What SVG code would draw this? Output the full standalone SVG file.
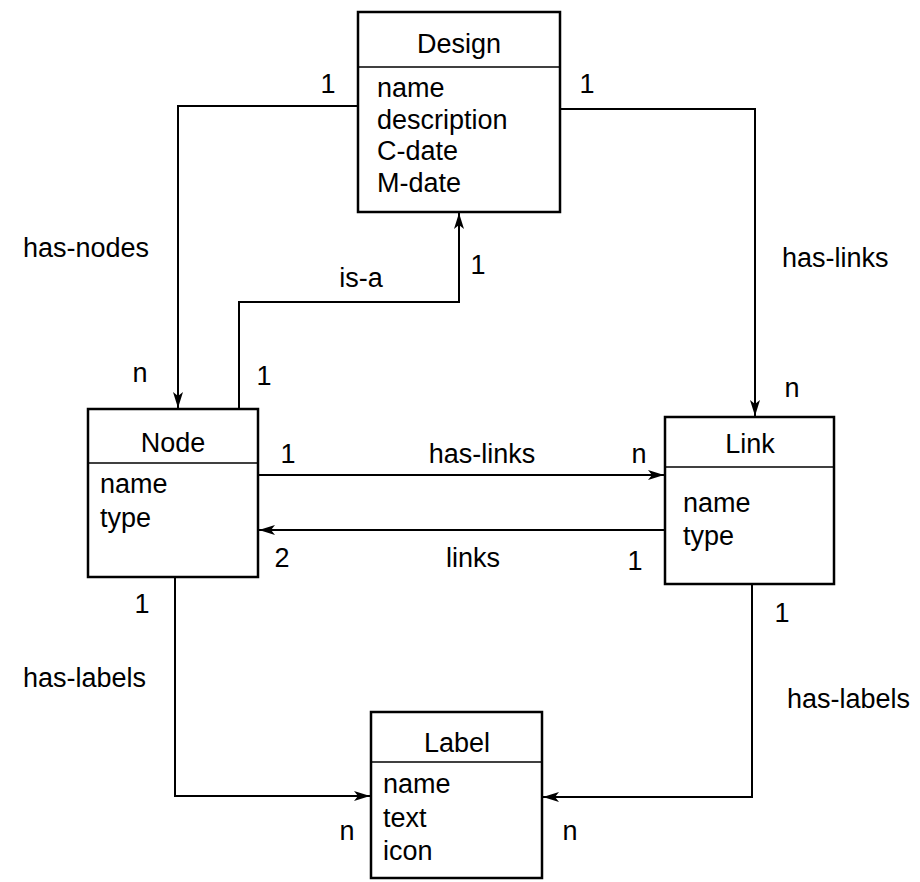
<svg xmlns="http://www.w3.org/2000/svg" width="920" height="882" viewBox="0 0 920 882">
<style>
text{font-family:"Liberation Sans",Arial,sans-serif;font-size:27px;fill:#000}
.mid{text-anchor:middle}
.box{fill:#fff;stroke:#000;stroke-width:2.5}
.div{stroke:#000;stroke-width:1.5}
.conn path{fill:none;stroke:#000;stroke-width:2;marker-end:url(#ah)}
</style>
<defs>
<marker id="ah" viewBox="0 0 16 10" refX="16" refY="5" markerWidth="16" markerHeight="10" markerUnits="userSpaceOnUse" orient="auto">
<path d="M0,0 L16,5 L0,10 L4,5 Z" fill="#000"/>
</marker>
</defs>
<rect width="920" height="882" fill="#fff"/>
<g id="connectors" class="conn">
<path d="M358,106 H178 V408"/>
<path d="M560,109 H755 V416"/>
<path d="M239,409 V302 H459 V213"/>
<path d="M258,475 H664"/>
<path d="M665,530 H259"/>
<path d="M175,577 V796 H370"/>
<path d="M752,584 V797 H543"/>
</g>
<g id="design">
<rect class="box" x="358" y="12" width="202" height="200"/>
<line class="div" x1="358" y1="67" x2="560" y2="67"/>
<text class="mid" x="459" y="53">Design</text>
<text x="377" y="97">name</text>
<text x="377" y="129">description</text>
<text x="377" y="160">C-date</text>
<text x="377" y="192">M-date</text>
</g>
<g id="node">
<rect class="box" x="88" y="409" width="170" height="168"/>
<line class="div" x1="88" y1="463" x2="258" y2="463"/>
<text class="mid" x="173" y="452">Node</text>
<text x="100" y="493">name</text>
<text x="100" y="527">type</text>
</g>
<g id="link">
<rect class="box" x="665" y="417" width="169" height="167"/>
<line class="div" x1="665" y1="467" x2="834" y2="467"/>
<text class="mid" x="750" y="453">Link</text>
<text x="683" y="512">name</text>
<text x="683" y="545">type</text>
</g>
<g id="label">
<rect class="box" x="371" y="712" width="171" height="166"/>
<line class="div" x1="371" y1="762" x2="542" y2="762"/>
<text class="mid" x="457" y="752">Label</text>
<text x="383" y="793">name</text>
<text x="383" y="827">text</text>
<text x="383" y="860">icon</text>
</g>
<g id="labels">
<text class="mid" x="328" y="93">1</text>
<text class="mid" x="587" y="93">1</text>
<text x="23" y="257">has-nodes</text>
<text class="mid" x="140" y="382">n</text>
<text class="mid" x="264" y="385">1</text>
<text class="mid" x="361" y="287">is-a</text>
<text class="mid" x="478" y="274">1</text>
<text x="782" y="267">has-links</text>
<text class="mid" x="792" y="397">n</text>
<text class="mid" x="288" y="463">1</text>
<text class="mid" x="482" y="463">has-links</text>
<text class="mid" x="639" y="463">n</text>
<text class="mid" x="282" y="567">2</text>
<text class="mid" x="473" y="567">links</text>
<text class="mid" x="635" y="570">1</text>
<text class="mid" x="142" y="613">1</text>
<text x="23" y="687">has-labels</text>
<text class="mid" x="782" y="622">1</text>
<text x="787" y="708">has-labels</text>
<text class="mid" x="347" y="840">n</text>
<text class="mid" x="570" y="840">n</text>
</g>
</svg>
